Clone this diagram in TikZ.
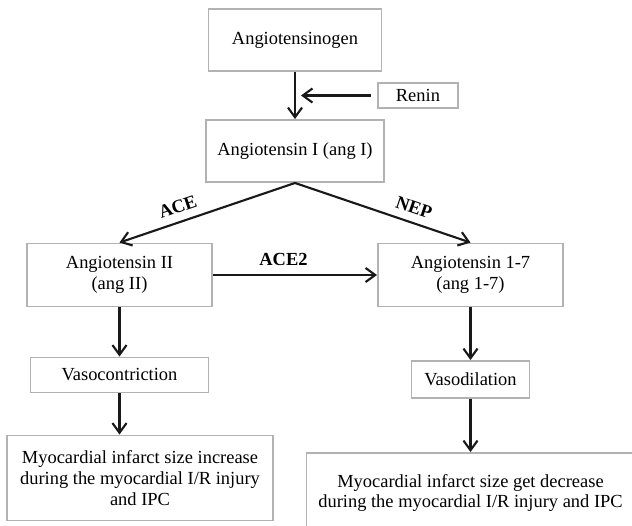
\documentclass[tikz,border=0pt]{standalone}
\usepackage{fontspec}
\setmainfont{Liberation Serif}
\usepackage{tikz}
\usetikzlibrary{trees,positioning,arrows.meta}

\begin{document}
\begin{tikzpicture}[
		box/.style={draw=black!30, line width=1.1pt, align=center, inner sep=0pt,
			font=\fontsize{10.5pt}{11.8pt}\selectfont},
		lab/.style={font=\fontsize{10.5pt}{11.8pt}\selectfont\bfseries, inner sep=2pt},
		arr/.style={draw=black!90, line width=1.2pt, -{Straight Barb[length=5.5pt,width=8pt]}},
		drop/.style={edge from parent path={(\tikzparentnode.south) -- (\tikzparentnode.south |- \tikzchildnode.north)}},
		fork/.style={edge from parent path={(\tikzparentnode.south) -- (\tikzchildnode.north)}},
		edge from parent/.style={arr},
		level 1/.style={level distance=2.22cm, drop},
		level 2/.style={level distance=2.48cm, sibling distance=7.02cm, fork},
		level 3/.style={level distance=2cm, drop},
		level 4/.style={level distance=2.06cm}]
	\useasboundingbox (0,0) rectangle (12.64,-10.5);
	\node[box, minimum width=3.46cm, minimum height=1.24cm] (agt) at (5.9,-0.8) {Angiotensinogen}
		child {node[box, minimum width=3.56cm, minimum height=1.24cm] (ang1) {Angiotensin I (ang I)}
			child {node[box, minimum width=3.7cm, minimum height=1.26cm] (ang2) {Angiotensin II\\(ang II)}
				child {node[box, minimum width=3.56cm, minimum height=0.7cm] (vcon) {Vasocontriction}
					child {node[box, minimum width=5.32cm, minimum height=1.7cm, xshift=0.41cm] (inc) {Myocardial infarct size increase\\during the myocardial I/R injury\\and IPC}}
				}
				edge from parent node[lab, above=0.09cm, sloped, pos=0.64] {ACE}
			}
			child {node[box, minimum width=3.7cm, minimum height=1.26cm] (ang17) {Angiotensin 1-7\\(ang 1-7)}
				child[level distance=2.09cm] {node[box, minimum width=2.36cm, minimum height=0.74cm] (vdil) {Vasodilation}
					child[level distance=2.27cm] {node[box, minimum width=6.56cm, minimum height=1.6cm] (dec) {Myocardial infarct size get decrease\\during the myocardial I/R injury and IPC}}
				}
				edge from parent node[lab, above=0.09cm, sloped, pos=0.65] {NEP}
			}
		};
	\path (agt.south) -- (ang1.north) coordinate[midway] (cut);
	\node[box, minimum width=1.6cm, minimum height=0.5cm, right=1.64cm of cut] (renin) {Renin};
	\draw[arr, shorten <=0.12cm, shorten >=0.12cm] (renin) -- (cut);
	\draw[arr] (ang2) -- node[lab, above=0.1cm, pos=0.43] {ACE2} (ang17);
\end{tikzpicture}
\end{document}
